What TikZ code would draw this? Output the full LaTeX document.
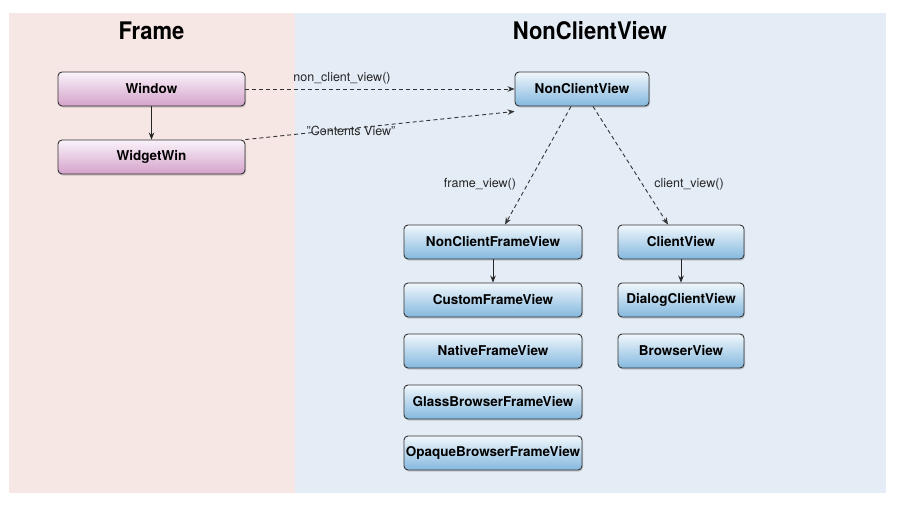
\documentclass[tikz,border=0pt]{standalone}
\usepackage{fontspec}
\setmainfont{TeX Gyre Heros}
\usetikzlibrary{shadows,arrows.meta}
\definecolor{pinkbg}{RGB}{246,230,228}
\definecolor{bluebg}{RGB}{228,236,246}
\definecolor{pinktop}{RGB}{250,243,250}
\definecolor{pinkbot}{RGB}{212,162,202}
\definecolor{bluetop}{RGB}{240,247,252}
\definecolor{bluebot}{RGB}{132,184,222}
\begin{document}
\begin{tikzpicture}[x=1pt,y=-1pt,
  box/.style={draw=black!80, line width=0.9pt, rounded corners=4pt,
    minimum height=34pt, inner sep=0pt,
    font=\bfseries\fontsize{13.5}{15}\selectfont,
    drop shadow={shadow xshift=1pt, shadow yshift=-1.5pt, opacity=0.35}},
  pbox/.style={box, top color=pinktop, bottom color=pinkbot, minimum width=187pt},
  bbox/.style={box, top color=bluetop, bottom color=bluebot},
  lbl/.style={font=\fontsize{12.5}{14}\selectfont, inner sep=1pt, text=black!85},
  ttl/.style={font=\bfseries\fontsize{22}{26}\selectfont},
  dep/.style={dash pattern=on 4pt off 3pt, line width=0.9pt, draw=black!80,
    -{Stealth[length=7pt,width=5.5pt]}},
  sol/.style={line width=0.9pt, draw=black!85, -{Stealth[length=7pt,width=5.5pt]}}]
\useasboundingbox (0,0) rectangle (901,506);
\fill[pinkbg] (9,13) rectangle (295,493);
\fill[bluebg] (295,13) rectangle (886,493);
\node[ttl, yscale=1.1] (tf) at (151.5,31) {Frame};
\node[ttl, yscale=1.1] (tn) at (590,31) {NonClientView};

\node[pbox] (win) at (151.5,89) {Window};
\node[pbox] (ww) at (151.5,157) {WidgetWin};

\node[bbox, minimum width=134pt] (nc) at (582,89) {NonClientView};
\node[bbox, minimum width=178pt] (ncfv) at (493,242) {NonClientFrameView};
\node[bbox, minimum width=178pt] (cfv) at (493,300) {CustomFrameView};
\node[bbox, minimum width=178pt] (nfv) at (493,351) {NativeFrameView};
\node[bbox, minimum width=178pt] (gbfv) at (493,402) {GlassBrowserFrameView};
\node[bbox, minimum width=178pt] (obfv) at (493,453) {OpaqueBrowserFrameView};
\node[bbox, minimum width=126pt] (cv) at (681,242) {ClientView};
\node[bbox, minimum width=126pt] (dcv) at (681,300) {DialogClientView};
\node[bbox, minimum width=126pt] (bv) at (681,351) {BrowserView};

\draw[sol] (win) -- (ww);
\draw[sol] (ncfv) -- (cfv);
\draw[sol] (cv) -- (dcv);

\draw[dep] (win.east) -- (nc.west);
\draw[dep] (ww.north east) -- ([yshift=-5pt]nc.south west);
\draw[dep] ([xshift=-11pt]nc.south) -- ([xshift=12pt]ncfv.north);
\draw[dep] ([xshift=11pt]nc.south) -- ([xshift=-13pt]cv.north);

\node[lbl] (l1) at (342,78) {non\_client\_view()};
\node[lbl] (l2) at (351,131) {"Contents View"};
\node[lbl] (l3) at (480,184) {frame\_view()};
\node[lbl] (l4) at (689,184) {client\_view()};
\end{tikzpicture}
\end{document}
